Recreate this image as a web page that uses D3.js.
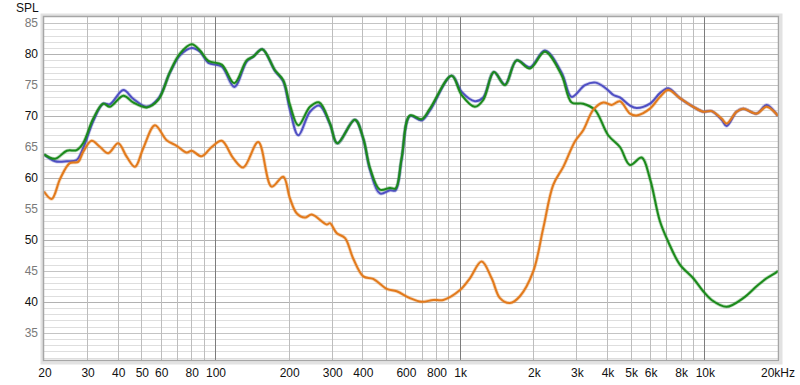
<!DOCTYPE html>
<html>
<head>
<meta charset="utf-8">
<script src="https://cdn.jsdelivr.net/npm/d3@7"></script>
<style>
  html, body { margin: 0; padding: 0; background: #fff; }
  svg { display: block; font-family: "Liberation Sans", Arial, sans-serif; }
</style>
</head>
<body>
<svg id="chart" width="800" height="385"></svg>
<script>
// frequency response plot: summed (blue), woofer (green), tweeter (orange)

const xTicks = [20, 30, 40, 50, 60, 80, 100, 200, 300, 400, 600, 800, 1000, 2000, 3000, 4000, 5000, 6000, 8000, 10000, 20000];
const xTickLabels = ['20', '30', '40', '50', '60', '80', '100', '200', '300', '400', '600', '800', '1k', '2k', '3k', '4k', '5k', '6k', '8k', '10k', '20kHz'];
const yTicks = [35, 40, 45, 50, 55, 60, 65, 70, 75, 80, 85];

const wooferFreq = [20, 22.2, 24.8, 27.2, 28.9, 31.8, 34.9, 37.2, 42.2, 46.3, 52.6, 58.6, 65.4, 71.9, 80.3, 86.8, 93.9, 106.5, 119.9, 134.7, 143.3, 156, 175.8, 190, 202.4, 219, 244.4, 266.8, 295, 316, 373, 403.6, 430, 472, 519, 547, 579, 626, 699, 756, 927, 1019, 1154, 1248, 1380, 1531, 1709, 1937, 2230, 2610, 2868, 3198, 3570, 4046, 4518, 4966, 5542, 5992, 6584, 7118, 7944, 9006, 9894, 10708, 12332, 14418, 16350, 17964, 19738, 20000];
const wooferSpl = [63.8, 63.1, 64.4, 64.5, 65.6, 69.6, 72.0, 71.5, 73.3, 72.2, 71.4, 72.6, 77.1, 80.1, 81.6, 80.6, 78.9, 78.3, 75.3, 79.0, 79.6, 80.8, 77.4, 75.8, 71.8, 68.5, 71.5, 72.2, 68.8, 65.6, 69.4, 66.4, 61.6, 58.1, 58.4, 58.3, 63.2, 70.1, 69.5, 71.2, 76.5, 73.4, 71.5, 72.6, 77.1, 75.0, 79.0, 77.7, 80.4, 76.6, 72.2, 72.0, 71.0, 66.9, 65.0, 62.1, 63.3, 59.9, 53.0, 49.7, 46.0, 43.8, 41.7, 40.3, 39.2, 40.6, 42.5, 43.8, 44.8, 45.0];

const sumFreq = [20, 22.2, 24.8, 27.2, 28.9, 31.8, 34.9, 37.2, 42.2, 46.3, 52.6, 58.6, 65.4, 71.9, 80.3, 86.8, 93.9, 106.5, 119.9, 134.7, 143.3, 156, 175.8, 190, 202.4, 219, 244.4, 266.8, 295, 316, 373, 403.6, 430, 472, 519, 547, 579, 626, 699, 756, 927, 1019, 1154, 1248, 1380, 1531, 1709, 1937, 2230, 2610, 2868, 3250, 3600, 3950, 4250, 4518, 4966, 5288, 5992, 6584, 7118, 7944, 9006, 9894, 10708, 11764, 12332, 13544, 14418, 16350, 17964, 19738, 20000];
const sumSpl = [63.8, 62.7, 62.7, 62.9, 64.8, 69.2, 72.0, 71.9, 74.2, 72.8, 71.5, 72.8, 77.0, 79.8, 81.0, 80.4, 78.6, 78.0, 74.7, 78.8, 79.6, 80.8, 77.3, 75.6, 71.0, 66.9, 70.7, 71.7, 68.7, 65.6, 69.4, 66.3, 61.3, 57.5, 58.0, 58.0, 63.0, 70.0, 69.3, 70.9, 76.5, 73.9, 72.4, 73.0, 77.1, 75.1, 79.0, 77.9, 80.6, 77.0, 73.1, 75.0, 75.4, 74.5, 73.4, 73.0, 71.7, 71.3, 72.0, 73.7, 74.5, 72.9, 71.5, 70.7, 70.8, 69.4, 68.4, 70.7, 71.2, 70.4, 71.8, 70.3, 70.0];

const tweeterFreq = [20, 21.5, 23.3, 25.5, 27.6, 28.9, 31.3, 33.9, 36.6, 40.2, 43.6, 47.1, 50.9, 56.8, 63.4, 69.7, 76.6, 80.3, 88.2, 96.9, 106.5, 118.7, 130.5, 150.2, 170.4, 190, 202.4, 215.6, 233.2, 248.4, 286, 295, 314, 340, 367, 403.6, 443, 503, 553, 626, 699, 780, 857, 1003, 1101, 1229, 1351, 1461, 1605, 1763, 1998, 2196, 2412, 2651, 2958, 3198, 3514, 3862, 4178, 4518, 4966, 5288, 5992, 6584, 7118, 7944, 9006, 9894, 10708, 11764, 12332, 13544, 14418, 16350, 17964, 19738, 20000];
const tweeterSpl = [57.8, 56.6, 59.9, 62.4, 62.6, 64.2, 66.0, 65.0, 64.0, 65.6, 63.4, 61.8, 64.8, 68.5, 66.1, 65.2, 64.1, 64.4, 63.5, 65.0, 66.0, 63.2, 61.7, 65.8, 58.6, 60.2, 56.7, 54.3, 53.6, 54.1, 52.5, 52.7, 51.1, 50.3, 47.0, 44.1, 43.7, 42.1, 41.7, 40.6, 40.0, 40.3, 40.3, 41.9, 43.8, 46.5, 43.8, 40.6, 39.8, 40.9, 44.9, 51.9, 58.9, 61.8, 65.9, 67.7, 71.0, 72.2, 71.8, 72.4, 70.4, 70.1, 71.2, 73.1, 74.2, 72.9, 71.5, 70.7, 70.8, 69.6, 68.8, 70.7, 71.2, 70.4, 71.5, 70.3, 70.0];

const series = [
  { name: 'sum', freq: sumFreq, spl: sumSpl, color: '#4f4fc4' },
  { name: 'woofer', freq: wooferFreq, spl: wooferSpl, color: '#1b8a1b' },
  { name: 'tweeter', freq: tweeterFreq, spl: tweeterSpl, color: '#e27a1c' }
];

const plotLeft = 44, plotTop = 17, plotRight = 778, plotBottom = 360;

const svg = d3.select('#chart');

const x = d3.scaleLog().domain([20, 20000]).range([plotLeft, plotRight]);
const y = d3.scaleLinear().domain([30.6, 86]).range([plotBottom, plotTop]);

// frame shadow
svg.append('rect')
  .attr('x', plotLeft - 2).attr('y', plotTop - 2)
  .attr('width', plotRight - plotLeft + 5).attr('height', plotBottom - plotTop + 5)
  .attr('fill', 'none').attr('stroke', '#e2e2e2').attr('stroke-width', 3);

svg.append('rect')
  .attr('x', plotLeft).attr('y', plotTop)
  .attr('width', plotRight - plotLeft).attr('height', plotBottom - plotTop)
  .attr('fill', '#fff');

const grid = svg.append('g');

// horizontal grid, one per dB
d3.range(31, 86).forEach(v => {
  const col = v % 10 === 0 ? '#b2b2b2' : (v % 5 === 0 ? '#c4c4c4' : '#dedede');
  grid.append('line')
    .attr('x1', plotLeft).attr('x2', plotRight)
    .attr('y1', Math.round(y(v)) + 0.5).attr('y2', Math.round(y(v)) + 0.5)
    .attr('stroke', col).attr('stroke-width', 1);
});

// vertical grid, 1..9 per decade
const vlines = [];
[10, 100, 1000, 10000].forEach(dec => {
  for (let m = 1; m < 10; m++) {
    const f = dec * m;
    if (f > 20 && f < 20000) vlines.push(f);
  }
});
vlines.forEach(f => {
  const decade = [100, 1000, 10000].includes(f);
  grid.append('line')
    .attr('x1', Math.round(x(f)) + 0.5).attr('x2', Math.round(x(f)) + 0.5)
    .attr('y1', plotTop).attr('y2', plotBottom)
    .attr('stroke', decade ? '#7c7c7c' : '#bdbdbd').attr('stroke-width', 1);
});

svg.append('clipPath').attr('id', 'plot-clip')
  .append('rect')
  .attr('x', plotLeft).attr('y', plotTop)
  .attr('width', plotRight - plotLeft).attr('height', plotBottom - plotTop);

const line = d3.line()
  .x(d => x(d[0]))
  .y(d => y(d[1]))
  .curve(d3.curveCatmullRom.alpha(0.5));

const curves = svg.append('g').attr('clip-path', 'url(#plot-clip)');

series.forEach(s => {
  const pts = s.freq.map((f, i) => [f, s.spl[i]]);
  curves.append('path')
    .datum(pts)
    .attr('d', line)
    .attr('fill', 'none')
    .attr('stroke', s.color)
    .attr('stroke-opacity', 0.3)
    .attr('stroke-width', 3.6)
    .attr('stroke-linejoin', 'round');
  curves.append('path')
    .datum(pts)
    .attr('d', line)
    .attr('fill', 'none')
    .attr('stroke', s.color)
    .attr('stroke-width', 2)
    .attr('stroke-linejoin', 'round');
});

// plot border
svg.append('rect')
  .attr('x', plotLeft - 0.5).attr('y', plotTop - 0.5)
  .attr('width', plotRight - plotLeft + 1).attr('height', plotBottom - plotTop + 1)
  .attr('fill', 'none').attr('stroke', '#a6a6a6').attr('stroke-width', 1.5);

// y labels
svg.append('g')
  .selectAll('text')
  .data(yTicks)
  .enter()
    .append('text')
    .attr('x', 38)
    .attr('y', d => y(d))
    .attr('dy', '0.35em')
    .attr('text-anchor', 'end')
    .attr('font-size', 12)
    .attr('fill', d => d % 10 === 0 ? '#111' : '#7a7a7a')
    .text(d => d);

svg.append('text')
  .attr('x', 16).attr('y', 12)
  .attr('font-size', 12)
  .attr('fill', '#111')
  .text('SPL');

// x labels
svg.append('g')
  .selectAll('text')
  .data(xTicks)
  .enter()
    .append('text')
    .attr('x', (d, i) => i === xTicks.length - 1 ? 761 : x(d) + 1)
    .attr('y', 377)
    .attr('text-anchor', (d, i) => i === xTicks.length - 1 ? 'start' : 'middle')
    .attr('font-size', 12)
    .attr('fill', '#111')
    .text((d, i) => xTickLabels[i]);
</script>
</body>
</html>
